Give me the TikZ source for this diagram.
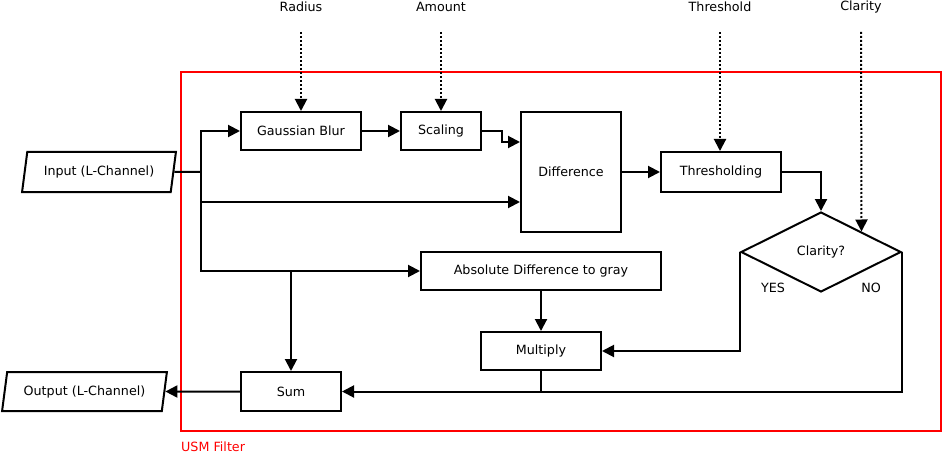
\documentclass[tikz,border=0pt]{standalone}
\usepackage{fontspec}
\setmainfont{DejaVu Sans}
\usetikzlibrary{arrows.meta,shapes.geometric,calc}
\begin{document}
\begin{tikzpicture}[x=1pt,y=-1pt,
  every node/.style={font=\fontsize{12.7}{15}\selectfont},
  box/.style={draw, line width=2pt, inner sep=0pt},
  io/.style={draw, line width=2pt, trapezium, trapezium left angle=72, trapezium right angle=108, trapezium stretches=true, inner sep=0pt},
  flow/.style={line width=2pt, -{Triangle[length=12pt,width=12pt]}},
  link/.style={line width=2pt},
  param/.style={line width=2pt, dash pattern=on 2pt off 2pt, -{Triangle[length=12pt,width=12pt,sep=0pt]}},
]
\useasboundingbox (0,0) rectangle (944,457);

% frame
\node[draw=red, line width=2pt, minimum width=760pt, minimum height=359pt, inner sep=0pt] (usm) at (561,251.5) {};
\node[text=red, anchor=west, inner sep=0pt] (usml) at (181,447) {USM Filter};

% parameters
\node (rad) at (301,7) {Radius};
\node (amt) at (441,7) {Amount};
\node (thr) at (720,7) {Threshold};
\node (cla) at (861,7) {Clarity};
\coordinate (radS) at (301,32);
\coordinate (amtS) at (441,32);
\coordinate (thrS) at (720,32);
\coordinate (claS) at (861,32);

% blocks
\node[box, minimum width=120pt, minimum height=38pt] (gb) at (301,131) {Gaussian Blur};
\node[box, minimum width=80pt, minimum height=38pt] (sc) at (441,131) {Scaling};
\node[box, minimum width=100pt, minimum height=120pt] (df) at (571,172) {Difference};
\node[box, minimum width=120pt, minimum height=40pt] (th) at (721,172) {Thresholding};
\node[draw, line width=2pt, diamond, aspect=2, minimum width=160pt, minimum height=80pt, inner sep=0pt] (cl) at (821,252) {Clarity?};
\node[box, minimum width=240pt, minimum height=38pt] (ad) at (541,271) {Absolute Difference to gray};
\node[box, minimum width=120pt, minimum height=38pt] (mu) at (541,351) {Multiply};
\node[box, minimum width=100pt, minimum height=39pt] (su) at (291,391.5) {Sum};
\node[io, minimum width=154pt, minimum height=40pt] (in) at (99,172) {Input (L-Channel)};
\node[io, minimum width=165pt, minimum height=39pt] (out) at (84.5,391.5) {Output (L-Channel)};

\node (yes) at (773,288) {YES};
\node (no) at (871,288) {NO};

% parameter arrows
\draw[param] (radS) -- (gb.north);
\draw[param] (amtS) -- (sc.north);
\draw[param] (thrS) -- (thrS |- th.north);
\draw[param] (claS) -- (cl.north east);

% flow
\coordinate (j1) at (201,172);
\coordinate (j2) at (291,271);
\draw[link] (in.east) -- (j1);
\draw[flow] (j1) |- (gb.west);
\draw[flow] (j1) |- ($(df.west)+(0,30)$);
\draw[flow] (j1) |- (ad.west);
\draw[flow] (j2) -- (su.north);
\draw[flow] (gb) -- (sc);
\draw[flow] (sc.east) -- ++(20,0) |- ($(df.west)+(0,-30)$);
\draw[flow] (df) -- (th);
\draw[flow] (th.east) -| (cl.north);
\draw[flow] (cl.west) |- (mu.east);
\draw[flow] (cl.east) |- (su.east);
\draw[flow] (ad) -- (mu);
\draw[link] (mu.south) -- (mu.south |- su.east);
\draw[flow] (su.west) -- (out.east);
\end{tikzpicture}
\end{document}
